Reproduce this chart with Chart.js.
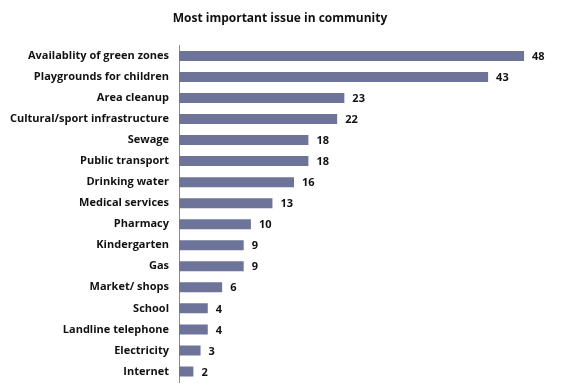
<!DOCTYPE html>
<html><head><meta charset="utf-8">
<script src="https://cdn.jsdelivr.net/npm/chart.js@4"></script>
<style>html,body{margin:0;padding:0;background:#fff;overflow:hidden}</style>
</head><body><canvas id="c" width="568" height="385" style="display:block"></canvas>
<script>
const categories = ["Availablity of green zones","Playgrounds for children","Area cleanup","Cultural/sport infrastructure","Sewage","Public transport","Drinking water","Medical services","Pharmacy","Kindergarten","Gas","Market/ shops","School","Landline telephone","Electricity","Internet"];
const values = [48,43,23,22,18,18,16,13,10,9,9,6,4,4,3,2];
const titleText = "Most important issue in community";
const FONT = "'Open Sans', sans-serif";

const valueLabels = {
  id: 'valueLabels',
  afterDatasetsDraw(chart) {
    const ctx = chart.ctx;
    const meta = chart.getDatasetMeta(0);
    ctx.save();
    ctx.font = "bold 11px " + FONT;
    ctx.fillStyle = "#111";
    ctx.textBaseline = "middle";
    ctx.textAlign = "left";
    meta.data.forEach((bar, i) => {
      ctx.fillText(String(values[i]), bar.x + 8, bar.y + 1);
    });
    ctx.restore();
  }
};

new Chart(document.getElementById('c'), {
  type: 'bar',
  data: { labels: categories, datasets: [{ data: values, backgroundColor: '#6d7399', borderWidth: 0, barPercentage: 0.95, categoryPercentage: 0.5 }] },
  options: {
    indexAxis: 'y',
    responsive: false, maintainAspectRatio: false, animation: false, devicePixelRatio: 1,
    layout: { padding: { left: 0, right: 8, top: 0, bottom: 3 } },
    plugins: {
      legend: { display: false }, tooltip: { enabled: false },
      title: { display: true, text: titleText, color: '#111', font: { family: FONT, size: 12, weight: 'bold' }, padding: { top: 11, bottom: 20 } }
    },
    scales: {
      x: { display: false, min: 0, max: 53 },
      y: {
        grid: { display: false, drawTicks: false, tickLength: 0 },
        border: { display: true, color: '#8a8a8a', width: 1 },
        ticks: { color: '#111', font: { family: FONT, size: 11, weight: 'bold' }, padding: 10, autoSkip: false },
        afterFit(s) { s.width = 179; s.paddingTop = 0; s.paddingBottom = 0; }
      }
    }
  },
  plugins: [valueLabels]
});
</script></body></html>
